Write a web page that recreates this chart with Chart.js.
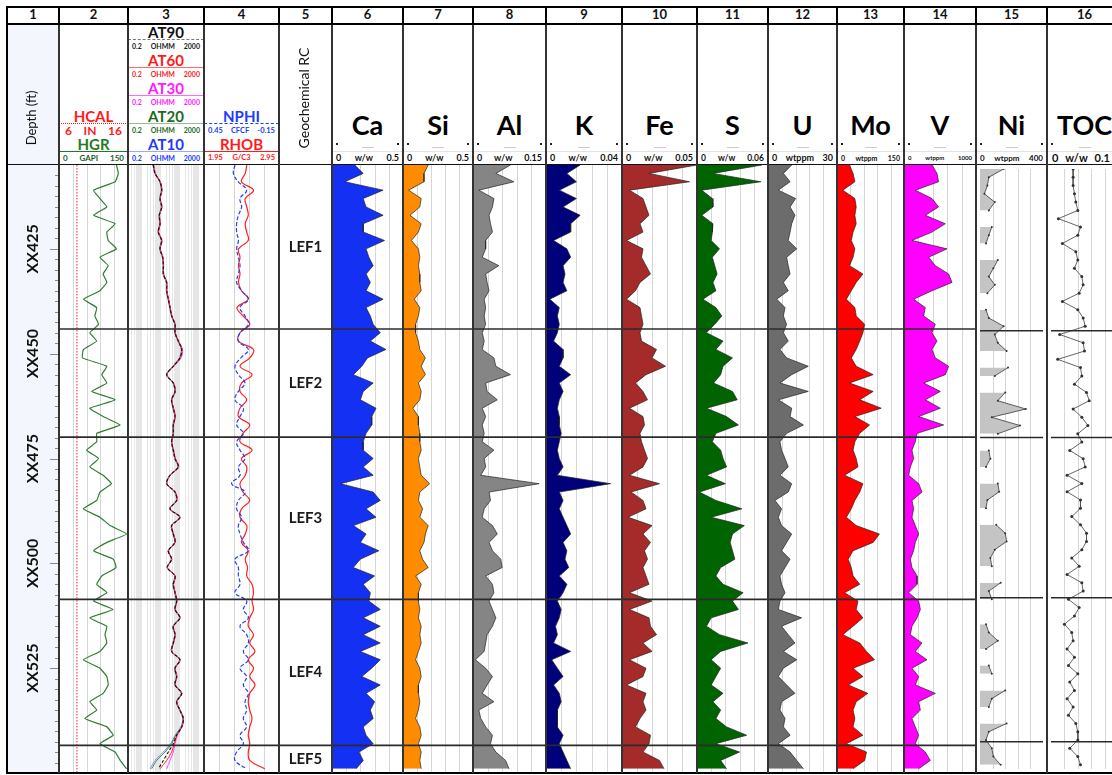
<!DOCTYPE html>
<html>
<head>
<meta charset="utf-8">
<title>Geochemical log</title>
<script src="https://cdn.jsdelivr.net/npm/chart.js@4.4.1/dist/chart.umd.min.js"></script>
<style>
  html, body { margin: 0; padding: 0; }
  body { width: 1112px; height: 775px; position: relative; overflow: hidden; background: #fff; font-family: Lato, "Noto Sans", sans-serif; color: #111; }
  canvas { position: absolute; }
</style>
</head>
<body>
<script>
// depth samples (ft) and zones
const depthFt = [
  405,407,409,411,413,415,417,419,421,423,
  425,427,429,431,433,435,437,439,441,443,
  445,447,449,451,453,455,457,459,461,463,
  465,467,469,471,473,475,477,479,481,483,
  485,487,489,491,493,495,497,499,501,503,
  505,507,509,511,513,515,517,519,521,523,
  525,527,529,531,533,535,537,539,541,543,
  545,547,549
];
const depthMin = 405, depthMax = 550;
const depthLabelAt = [425, 450, 475, 500, 525];
const depthLabels = ['XX425', 'XX450', 'XX475', 'XX500', 'XX525'];
const zoneTops = [405, 444.1, 469.9, 508.6, 543.4];
const zoneNames = ['LEF1', 'LEF2', 'LEF3', 'LEF4', 'LEF5'];

// track 2
const hcalDepth = [405, 550];
const hcalIn = [8.6, 8.6];
const grGapi = [
  125,129,122,75,89,104,75,122,104,107,
  125,89,107,96,104,89,53,82,78,86,
  67,82,53,51,104,93,104,71,122,67,
  96,133,82,82,60,86,67,96,114,89,
  82,53,89,111,147,104,75,118,124,93,
  82,104,75,118,67,104,100,104,89,53,
  89,104,107,96,67,82,56,104,118,89,
  122,133,147
];

// track 3 (ohmm)
const at90 = [
  4.3,5.3,9.7,11.8,9.7,11.8,8.9,9.7,7.9,11.8,
  9.7,13.4,14.5,14.5,21.7,21.7,26.5,32.5,39.7,59.6,
  59.6,89,134,109,48.6,21.7,48.6,59.6,39.7,48.6,
  59.6,48.6,48.6,39.7,48.6,59.6,89,32.5,21.7,59.6,
  72.8,32.5,109,39.7,48.6,59.6,26.5,39.7,23.4,59.6,
  48.6,59.6,72.8,59.6,109,48.6,59.6,48.6,39.7,109,
  59.6,72.8,59.6,134,72.8,109,163,134,72.8,48.6,
  26.5,14.5,8
];
const at60 = [
  4.5,5.5,10,12.5,10,12.5,9.2,10,8.2,12.5,
  10,14,15,15,22.5,22.5,27.5,34,41,62,
  62,92,140,112,50,22.5,50,62,41,50,
  62,50,50,41,50,62,92,34,22.5,62,
  75,34,112,41,50,62,27.5,41,24,62,
  50,62,75,62,112,50,62,50,41,112,
  62,75,62,140,75,112,168,140,75,55,
  39.7,21.7,9.7
];
const at30 = [
  4.4,5.4,10,12,10,12,9,10,8,12,
  10,13.5,15,15,22,22,27,33,40,61,
  61,91,150,125,52,23,50,61,40,50,
  61,50,50,40,50,61,95,33,22,61,
  75,33,110,40,50,61,27,40,24,61,
  50,61,75,61,110,50,61,50,40,110,
  61,75,61,137,75,110,165,137,80,60,
  48.6,32.5,21.7
];
const at20 = [
  4.2,5.2,9.5,11.5,9.5,11.5,8.7,9.5,7.8,11.5,
  9.5,13,14.2,14.2,21,21,26,32,39,58,
  58,87,130,105,47,21,47,58,39,47,
  58,47,47,39,47,58,87,32,21,58,
  71,32,105,39,47,58,26,39,23,58,
  47,58,71,58,105,47,58,47,39,105,
  58,71,58,130,71,105,158,128,65,40,
  17.8,6.5,3.5
];
const at10 = [
  4.1,5.1,9.3,11.3,9.3,11.3,8.5,9.3,7.6,11.3,
  9.3,12.8,14,14,20.5,20.5,25.5,31,38,57,
  57,85,125,102,46,21,46,57,38,46,
  57,46,46,38,46,57,85,31,21,57,
  70,31,102,38,46,57,25.5,38,22.5,57,
  46,57,70,57,102,46,57,46,38,102,
  57,70,57,125,70,102,150,120,60,35,
  14.5,5.3,2.9
];

// track 4
const nphi = [
  0.202,0.215,0.175,0.109,0.162,0.149,0.175,0.189,0.189,0.175,
  0.189,0.175,0.162,0.175,0.189,0.149,0.095,0.162,0.122,0.095,
  0.162,0.175,0.095,0.155,0.202,0.175,0.122,0.175,0.202,0.135,
  0.162,0.189,0.135,0.189,0.162,0.122,0.175,0.162,0.229,0.122,
  0.175,0.189,0.149,0.175,0.162,0.135,0.095,0.202,0.175,0.175,
  0.162,0.202,0.109,0.135,0.095,0.162,0.109,0.095,0.135,0.095,
  0.162,0.109,0.135,0.095,0.122,0.109,0.135,0.109,0.162,0.135,
  0.189,0.202,0.109
];
const rhob = [
  2.52,2.50,2.45,2.61,2.50,2.52,2.54,2.50,2.52,2.54,
  2.41,2.43,2.41,2.43,2.41,2.45,2.54,2.39,2.47,2.56,
  2.43,2.41,2.61,2.56,2.43,2.59,2.45,2.43,2.52,2.43,
  2.41,2.56,2.47,2.43,2.59,2.45,2.52,2.50,2.43,2.47,
  2.56,2.45,2.43,2.52,2.50,2.45,2.54,2.50,2.53,2.52,
  2.59,2.61,2.59,2.61,2.56,2.54,2.61,2.56,2.63,2.54,
  2.61,2.56,2.63,2.56,2.54,2.56,2.59,2.56,2.54,2.56,
  2.54,2.56,2.76
];

// geochemistry
const caWw = [
  0.16,0.22,0.09,0.36,0.22,0.24,0.36,0.22,0.22,0.37,
  0.24,0.26,0.29,0.24,0.27,0.24,0.36,0.24,0.27,0.29,
  0.34,0.27,0.38,0.25,0.21,0.15,0.29,0.22,0.20,0.31,
  0.28,0.28,0.24,0.22,0.22,0.29,0.22,0.29,0.06,0.29,
  0.34,0.24,0.31,0.15,0.24,0.20,0.33,0.20,0.15,0.30,
  0.22,0.27,0.26,0.34,0.22,0.34,0.22,0.34,0.20,0.34,
  0.28,0.21,0.34,0.24,0.30,0.27,0.29,0.22,0.24,0.29,
  0.19,0.22,0.17
];
const siWw = [
  0.18,0.15,0.15,0.04,0.13,0.12,0.05,0.13,0.11,0.06,
  0.11,0.12,0.11,0.12,0.12,0.13,0.08,0.12,0.11,0.09,
  0.09,0.11,0.12,0.16,0.13,0.16,0.11,0.13,0.12,0.07,
  0.11,0.11,0.12,0.12,0.13,0.11,0.12,0.13,0.19,0.12,
  0.11,0.14,0.12,0.18,0.16,0.15,0.12,0.14,0.18,0.09,
  0.13,0.11,0.11,0.12,0.11,0.13,0.12,0.13,0.11,0.09,
  0.12,0.13,0.11,0.11,0.12,0.11,0.09,0.12,0.13,0.11,
  0.13,0.12,0.13
];
const alWw = [
  0.077,0.047,0.084,0.012,0.043,0.040,0.033,0.036,0.040,0.026,
  0.026,0.019,0.053,0.026,0.029,0.033,0.023,0.026,0.023,0.026,
  0.019,0.023,0.019,0.043,0.047,0.077,0.026,0.029,0.050,0.019,
  0.026,0.019,0.023,0.019,0.043,0.023,0.026,0.016,0.136,0.033,
  0.036,0.023,0.019,0.040,0.050,0.033,0.040,0.057,0.060,0.026,
  0.040,0.043,0.033,0.040,0.047,0.040,0.029,0.026,0.023,0.005,
  0.026,0.040,0.029,0.019,0.043,0.012,0.016,0.026,0.040,0.036,
  0.047,0.067,0.074
];
const kWw = [
  0.018,0.011,0.016,0.007,0.016,0.009,0.018,0.013,0.013,0.004,
  0.011,0.013,0.009,0.010,0.009,0.011,0.002,0.007,0.006,0.007,
  0.006,0.004,0.009,0.009,0.007,0.013,0.007,0.009,0.007,0.006,
  0.007,0.007,0.008,0.007,0.006,0.007,0.009,0.006,0.034,0.007,
  0.009,0.007,0.009,0.011,0.013,0.009,0.011,0.010,0.012,0.007,
  0.011,0.009,0.006,0.008,0.007,0.005,0.006,0.004,0.013,0.003,
  0.006,0.009,0.004,0.007,0.008,0.006,0.006,0.006,0.009,0.007,
  0.009,0.011,0.013
];
const feWw = [
  0.050,0.018,0.045,0.005,0.014,0.016,0.018,0.012,0.014,0.003,
  0.014,0.013,0.016,0.019,0.012,0.009,0.003,0.012,0.013,0.014,
  0.012,0.013,0.023,0.020,0.029,0.016,0.009,0.014,0.017,0.005,
  0.014,0.015,0.012,0.013,0.015,0.017,0.014,0.005,0.025,0.006,
  0.014,0.016,0.004,0.020,0.014,0.019,0.015,0.017,0.014,0.016,
  0.018,0.005,0.020,0.005,0.018,0.019,0.023,0.014,0.020,0.005,
  0.016,0.014,0.003,0.016,0.014,0.016,0.012,0.009,0.019,0.018,
  0.014,0.025,0.028
];
const sWw = [
  0.055,0.0135,0.054,0.004,0.013,0.0135,0.004,0.0135,0.013,0.012,
  0.019,0.013,0.015,0.017,0.0135,0.016,0.005,0.016,0.021,0.015,
  0.008,0.022,0.016,0.030,0.022,0.020,0.014,0.030,0.034,0.008,
  0.025,0.035,0.016,0.013,0.020,0.022,0.025,0.008,0.024,0.002,
  0.016,0.038,0.012,0.040,0.030,0.028,0.030,0.032,0.020,0.016,
  0.022,0.039,0.030,0.035,0.012,0.008,0.019,0.043,0.020,0.012,
  0.020,0.016,0.012,0.022,0.0135,0.020,0.016,0.025,0.042,0.016,
  0.036,0.020,0.025
];
const uPpm = [
  10.3,6.7,9.6,4.5,12.0,9.6,11.7,10.3,9.6,8.8,
  12.5,8.1,8.8,9.6,6.7,8.8,3.8,7.4,6.7,8.1,
  6.7,8.8,5.2,8.1,17.5,10.3,5.2,17.5,4.5,10.3,
  9.6,15.4,8.1,5.2,5.9,7.4,8.8,5.2,10.3,8.8,
  3.0,5.9,4.5,5.9,10.3,8.1,5.9,9.6,7.4,5.2,
  5.9,7.4,5.2,4.5,14.6,5.9,8.8,11.7,6.7,12.5,
  6.7,4.5,8.1,11.7,5.9,5.2,7.4,6.7,9.6,4.5,
  9.6,12.5,15.4
];
const moPpm = [
  28,36,40,13,40,43,40,43,36,32,
  40,36,28,58,43,32,21,40,43,62,
  58,51,43,32,43,81,28,81,51,99,
  40,73,51,40,36,43,47,17,58,51,
  40,32,21,43,95,81,36,25,32,36,
  51,17,47,43,58,36,13,51,66,84,
  36,58,25,69,43,36,40,36,58,21,
  66,62,36
];
const vPpm = [
  389,458,481,157,389,481,296,574,389,111,
  597,343,435,620,667,389,134,296,273,435,
  389,458,389,435,620,574,273,505,296,505,
  204,551,181,157,111,134,88,65,204,250,
  111,134,111,157,204,157,134,88,111,181,
  181,65,204,227,181,111,88,250,157,319,
  111,204,157,435,204,227,111,157,204,157,
  296,366,204
];
const niPpm = [
  150,56,47,28,94,56,null,75,56,38,
  null,113,85,56,94,47,null,38,56,150,
  94,113,169,null,178,94,null,160,113,291,
  75,254,113,null,56,66,38,null,113,122,
  47,38,null,103,160,169,94,66,75,null,
  131,56,75,null,null,38,56,113,38,null,
  56,75,null,160,75,56,null,169,56,38,
  75,85,131
];
const tocWw = [
  0.033,0.033,0.033,0.035,0.037,0.040,0.011,0.044,0.040,0.017,
  0.037,0.040,0.035,0.046,0.048,0.042,0.017,0.040,0.048,0.051,
  0.013,0.048,0.050,0.010,0.044,0.046,0.035,0.053,0.057,0.033,
  0.046,0.055,0.040,0.046,0.028,0.048,0.051,0.024,0.046,0.024,
  0.044,0.044,0.031,0.044,0.053,0.053,0.046,0.031,0.042,0.024,
  0.046,0.048,0.026,0.042,0.035,0.020,0.031,0.033,0.024,0.035,
  0.026,0.040,0.028,0.035,0.024,0.033,0.026,0.037,0.040,0.040,
  0.028,0.040,0.044
];

// ---------- layout ----------
const TOP = 165, H = 608;
const TR = [[7,59],[59,128],[128,204],[204,279],[279,332],[332,403],[403,473],[473,546],
            [546,622],[622,697],[697,768],[768,837],[837,904],[904,976],[976,1047],[1047,1122]];

Chart.defaults.font.family = 'Lato';

function put(html, css) {
  const d = document.createElement('div');
  d.style.cssText = 'position:absolute;' + css;
  d.innerHTML = html;
  document.body.appendChild(d);
  return d;
}
function ctext(x0, x1, cy, text, css) {
  return put(text, `left:${x0}px;width:${x1 - x0}px;top:${cy - 10}px;height:20px;line-height:20px;text-align:center;white-space:nowrap;${css}`);
}
function srow(x0, x1, cy, a, b, c, css) {
  return put(`<span>${a}</span><span>${b}</span><span>${c}</span>`,
    `left:${x0}px;width:${x1 - x0}px;top:${cy - 7}px;height:14px;line-height:14px;display:flex;justify-content:space-between;box-sizing:border-box;padding:0 4px;font-weight:700;white-space:nowrap;${css}`);
}
function hl(x0, x1, y, css) { return put('', `left:${x0}px;width:${x1 - x0}px;top:${y}px;height:0;${css}`); }
function vl(x, y0, y1, w, color) { return put('', `left:${x - w / 2}px;top:${y0}px;width:${w}px;height:${y1 - y0}px;background:${color}`); }
function rtext(cx, cy, text, css) {
  return put(text, `left:${cx - 100}px;top:${cy - 10}px;width:200px;height:20px;line-height:20px;text-align:center;transform:rotate(-90deg);white-space:nowrap;${css}`);
}

const pts = (vals, dep = depthFt) => dep.map((d, i) => ({ x: vals[i], y: d }));

function decor(o) {
  return {
    id: 'decor',
    beforeDatasetsDraw(chart) {
      const { ctx, chartArea: a } = chart;
      if (!o.grid) return;
      const sc = chart.scales[o.gridAxis || 'x'];
      ctx.save();
      ctx.strokeStyle = o.gridColor || '#d6d6d6';
      ctx.lineWidth = 1;
      o.grid.forEach(v => {
        const px = Math.round(sc.getPixelForValue(v)) + 0.5;
        ctx.beginPath(); ctx.moveTo(px, a.top); ctx.lineTo(px, a.bottom); ctx.stroke();
      });
      ctx.restore();
    },
    afterDatasetsDraw(chart) {
      const { ctx, chartArea: a } = chart;
      const y = chart.scales.y;
      ctx.save();
      if (o.zones !== false) {
        ctx.strokeStyle = '#2b2b2b';
        ctx.lineWidth = 1.6;
        zoneTops.slice(1).forEach(d => {
          const py = y.getPixelForValue(d);
          ctx.beginPath(); ctx.moveTo(a.left, py); ctx.lineTo(a.right, py); ctx.stroke();
        });
      }
      if (o.after) o.after(ctx, a, y);
      ctx.restore();
    }
  };
}

function track(i, datasets, xScales, o) {
  const [x0, x1] = TR[i];
  const c = document.createElement('canvas');
  c.width = x1 - x0; c.height = H;
  c.style.cssText = `left:${x0}px;top:${TOP}px;width:${x1 - x0}px;height:${H}px`;
  document.body.appendChild(c);
  const scales = { y: { type: 'linear', min: depthMin, max: depthMax, reverse: true, display: false } };
  Object.keys(xScales).forEach(k => { scales[k] = Object.assign({ axis: 'x', display: false }, xScales[k]); });
  return new Chart(c, {
    type: 'line',
    data: { datasets },
    options: {
      responsive: false, animation: false, indexAxis: 'y',
      layout: { padding: 0 },
      events: [],
      elements: { point: { radius: 0 } },
      plugins: { legend: { display: false }, tooltip: { enabled: false } },
      scales
    },
    plugins: [decor(o || {})]
  });
}

const fifths = max => [0.2, 0.4, 0.6, 0.8].map(f => f * max);

// background of depth column
put('', 'left:7px;top:24px;width:52px;height:749px;background:#f3f7fd');

// track 1 - depth
track(0, [], { x: { type: 'linear', min: 0, max: 1 } }, {
  zones: false,
  after(ctx, a, y) {
    ctx.strokeStyle = '#888'; ctx.lineWidth = 1;
    for (let d = depthMin + 2.5; d < depthMax; d += 2.5) {
      const py = Math.round(y.getPixelForValue(d)) + 0.5;
      const major = d % 25 === 0;
      ctx.beginPath(); ctx.moveTo(a.right - (major ? 9 : 4), py); ctx.lineTo(a.right, py); ctx.stroke();
    }
    ctx.fillStyle = '#111'; ctx.font = '700 16px Lato';
    ctx.textAlign = 'center'; ctx.textBaseline = 'middle';
    depthLabelAt.forEach((d, k) => {
      ctx.save();
      ctx.translate(26, y.getPixelForValue(d));
      ctx.rotate(-Math.PI / 2);
      ctx.fillText(depthLabels[k], 0, 0);
      ctx.restore();
    });
  }
});

// track 2 - HCAL / HGR
track(1, [
  { data: pts(hcalIn, hcalDepth), xAxisID: 'x2', borderColor: '#ff2020', borderWidth: 1, borderDash: [1.5, 1.5] },
  { data: pts(grGapi), borderColor: '#2e7d32', borderWidth: 1.2, tension: 0.1 }
], { x: { type: 'linear', min: 0, max: 150 }, x2: { type: 'linear', min: 6, max: 16 } }, { grid: fifths(150) });

// track 3 - resistivity
const logGrid = [];
for (let e = -1; e <= 3; e++) for (let m = 1; m <= 9; m++) { const v = m * Math.pow(10, e); if (v > 0.2 && v < 2000) logGrid.push(v); }
track(2, [
  { data: pts(at90), borderColor: '#111', borderWidth: 1.1, borderDash: [3, 2], tension: 0.3 },
  { data: pts(at60), borderColor: '#ff2a2a', borderWidth: 1, tension: 0.3 },
  { data: pts(at30), borderColor: '#ff40ff', borderWidth: 1, tension: 0.3 },
  { data: pts(at20), borderColor: '#3a8a3a', borderWidth: 1, tension: 0.3 },
  { data: pts(at10), borderColor: '#7a86ff', borderWidth: 1, tension: 0.3 }
], { x: { type: 'logarithmic', min: 0.2, max: 2000 } }, { grid: logGrid, gridColor: '#e6e6e6' });

// track 4 - NPHI / RHOB
track(3, [
  { data: pts(nphi), borderColor: '#2040ff', borderWidth: 1.2, borderDash: [4, 2], tension: 0.4 },
  { data: pts(rhob), xAxisID: 'x2', borderColor: '#ff2020', borderWidth: 1.2, tension: 0.4 }
], { x: { type: 'linear', min: -0.15, max: 0.45, reverse: true }, x2: { type: 'linear', min: 1.95, max: 2.95 } },
   { grid: [0.33, 0.21, 0.09, -0.03] });

// track 5 - zones
track(4, [], { x: { type: 'linear', min: 0, max: 1 } }, {
  after(ctx, a, y) {
    ctx.fillStyle = '#1a1a1a'; ctx.font = '700 15px Lato';
    ctx.textAlign = 'center'; ctx.textBaseline = 'middle';
    zoneNames.forEach((n, k) => {
      const d0 = zoneTops[k], d1 = k + 1 < zoneTops.length ? zoneTops[k + 1] : depthMax;
      ctx.fillText(n, (a.left + a.right) / 2, y.getPixelForValue((d0 + d1) / 2));
    });
  }
});

// tracks 6-15 - filled geochemistry
const GEO = [
  [5, 'Ca', 'w/w', '0.5', 0.5, caWw, '#1430f2', 9],
  [6, 'Si', 'w/w', '0.5', 0.5, siWw, '#ff8c00', 9],
  [7, 'Al', 'w/w', '0.15', 0.15, alWw, '#858585', 9],
  [8, 'K', 'w/w', '0.04', 0.04, kWw, '#00007a', 9],
  [9, 'Fe', 'w/w', '0.05', 0.05, feWw, '#a52a2a', 9],
  [10, 'S', 'w/w', '0.06', 0.06, sWw, '#006400', 8.5],
  [11, 'U', 'wtppm', '30', 30, uPpm, '#6c6c6c', 9],
  [12, 'Mo', 'wtppm', '150', 150, moPpm, '#ff0000', 7],
  [13, 'V', 'wtppm', '1000', 1000, vPpm, '#ff00ff', 6],
  [14, 'Ni', 'wtppm', '400', 400, niPpm, '#c4c4c4', 8]
];
GEO.forEach(([i, name, unit, maxLbl, max, vals, color]) => {
  track(i, [{
    data: pts(vals), borderColor: '#222', borderWidth: 0.7, backgroundColor: color,
    fill: { value: 0 }, pointRadius: name === 'Ni' ? 1 : 0, pointBackgroundColor: '#333', pointBorderWidth: 0
  }], { x: { type: 'linear', min: 0, max } }, { grid: fifths(max) });
});

// track 16 - TOC
track(15, [{
  data: pts(tocWw), borderColor: '#555', borderWidth: 0.9, pointRadius: 1.5,
  pointBackgroundColor: '#333', pointBorderWidth: 0
}], { x: { type: 'linear', min: 0, max: 0.1 } }, { grid: fifths(0.1) });

// ---------- headers ----------
TR.forEach(([x0, x1], i) => ctext(x0, x1, 15.5, String(i + 1), 'font:700 13px Lato;color:#111'));

rtext(33, 118, 'Depth (ft)', 'font:400 13px Lato;color:#111');

// track 2
ctext(59, 128, 117, 'HCAL', 'font:700 15px Lato;color:#ff1a1a');
hl(59, 128, 123, 'border-top:1px dotted #ff1a1a');
srow(59, 128, 131, '6', 'IN', '16', 'font-size:12px;color:#ff1a1a;padding:0 6px');
ctext(59, 128, 145, 'HGR', 'font:700 15px Lato;color:#1e7b1e');
hl(59, 128, 151, 'border-top:1.5px solid #1e7b1e');
srow(59, 128, 158, '0', 'GAPI', '150', 'font-size:8px;color:#1e5e1e');

// track 3
[['AT90', '#111', 33, 'border-top:1.5px dashed #777'],
 ['AT60', '#ff1a1a', 61, 'border-top:1px solid #ff6a6a'],
 ['AT30', '#ff1aff', 89, 'border-top:1px solid #ff6aff'],
 ['AT20', '#1e6b1e', 117, 'border-top:1px solid #9ab89a'],
 ['AT10', '#1a3aff', 145, 'border-top:1px solid #9aa6ff']].forEach(([n, c, cy, line]) => {
  ctext(128, 204, cy, n, `font:700 15px Lato;color:${c}`);
  hl(128, 204, cy + 6, line);
  srow(128, 204, cy + 13, '0.2', 'OHMM', '2000', `font-size:7px;color:${c === '#111' ? '#222' : c}`);
});

// track 4
ctext(204, 279, 117, 'NPHI', 'font:700 15px Lato;color:#1a3aff');
hl(204, 279, 123, 'border-top:1.5px dashed #1a3aff');
srow(204, 279, 131, '0.45', 'CFCF', '-0.15', 'font-size:7.5px;color:#1a3aff');
ctext(204, 279, 145, 'RHOB', 'font:700 15px Lato;color:#ff1a1a');
hl(204, 279, 151, 'border-top:1.5px solid #ff1a1a');
srow(204, 279, 158, '1.95', 'G/C3', '2.95', 'font-size:7.5px;color:#ff1a1a');

// track 5
rtext(305, 98, 'Geochemical RC', 'font:400 14px Lato;color:#111');

// geochem headers
GEO.concat([[15, 'TOC', 'w/w', '0.1', 0.1, null, null, 11]]).forEach(([i, name, unit, maxLbl, , , , fs]) => {
  const [x0, x1] = TR[i];
  ctext(x0, x1, 118, name, 'font:700 27px Lato;color:#000');
  put('', `left:${x0 + 4}px;top:143px;width:2px;height:2px;background:#222`);
  put('', `left:${x1 - 6}px;top:143px;width:2px;height:2px;background:#222`);
  put('', `left:${(x0 + x1) / 2 - 6}px;top:147px;width:12px;height:1px;background:#ccc`);
  hl(x0, x1, 151, 'border-top:1px solid #e2e2e2');
  srow(x0, x1, 158, '0', unit, maxLbl, `font-size:${fs}px;color:#111` + (i === 15 ? ';padding:0 12px 0 5px' : ''));
});

// ---------- frame ----------
hl(6, 1112, 6, 'border-top:2px solid #000');
hl(6, 1112, 23, 'border-top:2px solid #000');
hl(7, 1112, 164, 'border-top:1.5px solid #111');
hl(6, 1112, 772, 'border-top:2px solid #000');
vl(7, 6, 774, 2, '#000');
TR.forEach(([x0, x1], i) => {
  if (i === 0) return;
  vl(x0, 6, 25, 2, '#000');
  vl(x0, 25, 773, 1.5, '#333');
});
</script>
</body>
</html>
